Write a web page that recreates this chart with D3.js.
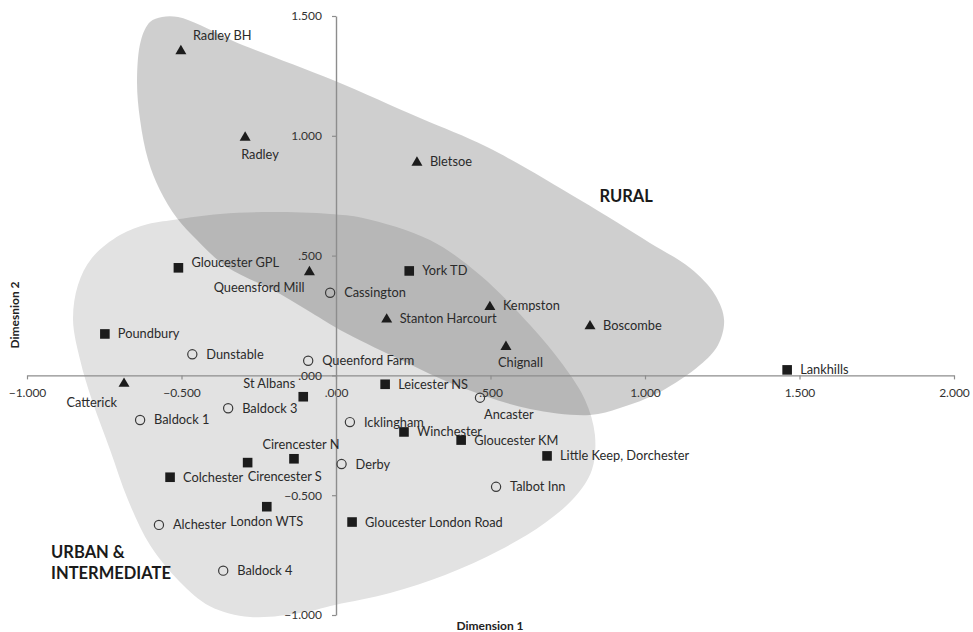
<!DOCTYPE html>
<html>
<head>
<meta charset="utf-8">
<script src="https://cdn.jsdelivr.net/npm/d3@7"></script>
<style>
  body { margin: 0; background: #fff; }
  svg text { font-family: Lato, "Open Sans", sans-serif; }
</style>
</head>
<body>
<svg id="chart" width="973" height="632"></svg>
<script>
// Site coordinates on the two MDS dimensions
const siteNames = [
  "Radley BH", "Radley", "Bletsoe", "Gloucester GPL", "Queensford Mill", "York TD",
  "Cassington", "Stanton Harcourt", "Kempston", "Boscombe", "Chignall", "Poundbury",
  "Dunstable", "Queenford Farm", "Lankhills", "Catterick", "St Albans", "Leicester NS",
  "Ancaster", "Baldock 3", "Baldock 1", "Icklingham", "Winchester", "Gloucester KM",
  "Little Keep, Dorchester", "Cirencester N", "Cirencester S", "Derby", "Colchester",
  "Talbot Inn", "London WTS", "Gloucester London Road", "Alchester", "Baldock 4"
];
const dimension1 = [
  -0.502, -0.294, 0.262, -0.510, -0.086, 0.237,
  -0.019, 0.164, 0.498, 0.822, 0.550, -0.748,
  -0.465, -0.090, 1.460, -0.686, -0.106, 0.159,
  0.466, -0.349, -0.634, 0.045, 0.220, 0.405,
  0.683, -0.136, -0.286, 0.018, -0.537,
  0.518, -0.224, 0.052, -0.573, -0.365
];
const dimension2 = [
  1.358, 0.997, 0.893, 0.449, 0.436, 0.436,
  0.345, 0.238, 0.290, 0.210, 0.124, 0.173,
  0.088, 0.061, 0.023, -0.030, -0.089, -0.037,
  -0.093, -0.137, -0.186, -0.195, -0.236, -0.270,
  -0.336, -0.348, -0.364, -0.370, -0.425,
  -0.465, -0.548, -0.612, -0.624, -0.815
];
// triangle = rural cemetery, square = urban, circle = intermediate
const siteTypes = [
  "triangle", "triangle", "triangle", "square", "triangle", "square",
  "circle", "triangle", "triangle", "triangle", "triangle", "square",
  "circle", "circle", "square", "triangle", "square", "square",
  "circle", "circle", "circle", "circle", "square", "square",
  "square", "square", "square", "circle", "square",
  "circle", "square", "square", "circle", "circle"
];

const xTickValues = [-1, -0.5, 0, 0.5, 1, 1.5, 2];
const yTickValues = [-1, -0.5, 0, 0.5, 1, 1.5];

// Hand-drawn grouping outlines, in dimension units
const ruralOutline = [
  [-0.563, 1.496], [-0.511, 1.496], [-0.440, 1.462], [-0.333, 1.396], [-0.010, 1.233],
  [0.272, 1.074], [0.489, 0.953], [0.790, 0.732], [1.016, 0.553], [1.146, 0.448],
  [1.227, 0.336], [1.256, 0.231], [1.236, 0.126], [1.178, 0.043], [1.049, -0.069],
  [0.919, -0.136], [0.822, -0.165], [0.628, -0.140], [0.411, -0.053], [0.197, 0.073],
  [0.013, 0.190], [-0.094, 0.273], [-0.204, 0.356], [-0.353, 0.452], [-0.450, 0.565],
  [-0.515, 0.657], [-0.570, 0.774], [-0.608, 0.899], [-0.634, 1.066], [-0.644, 1.232],
  [-0.631, 1.400], [-0.602, 1.475]
];
const urbanOutline = [
  [-0.528, 0.649], [-0.375, 0.674], [-0.214, 0.682], [-0.019, 0.674], [0.087, 0.657],
  [0.304, 0.565], [0.466, 0.419], [0.628, 0.210], [0.735, 0.043], [0.806, -0.103],
  [0.838, -0.249], [0.828, -0.395], [0.773, -0.508], [0.676, -0.616], [0.531, -0.729],
  [0.353, -0.833], [0.175, -0.908], [-0.003, -0.958], [-0.117, -0.992], [-0.278, -1.008],
  [-0.408, -0.963], [-0.505, -0.862], [-0.602, -0.708], [-0.673, -0.520], [-0.731, -0.311],
  [-0.790, -0.103], [-0.828, 0.064], [-0.851, 0.231], [-0.835, 0.377], [-0.790, 0.490],
  [-0.699, 0.586], [-0.608, 0.632]
];

const groupLabels = [
  { lines: ["RURAL"], x: 0.939, y: 0.749, anchor: "middle" },
  { lines: ["URBAN &", "INTERMEDIATE"], x: -0.922, y: -0.736, anchor: "start" }
];

const svg = d3.select("#chart");

const x = d3.scaleLinear().domain([-1, 2]).range([27, 954]);
const y = d3.scaleLinear().domain([-1, 1.5]).range([615, 16]);

const fmt = v => d3.format(".3f")(v).replace(/^(-?)0\./, "$1.");

// Grouping shapes
const outline = d3.line()
  .x(d => x(d[0])).y(d => y(d[1]))
  .curve(d3.curveCatmullRomClosed.alpha(0.5));

svg.append("path")
  .attr("d", outline(urbanOutline))
  .attr("fill", "#e2e2e2");
svg.append("path")
  .attr("d", outline(ruralOutline))
  .attr("fill", "#000")
  .attr("fill-opacity", 0.19);

// Axes crossing at the origin
const axisColor = "#8d8d8d";
const xAxis = svg.append("g")
  .attr("transform", `translate(0,${y(0)})`)
  .call(d3.axisBottom(x).tickValues(xTickValues).tickFormat(fmt)
    .tickSize(4).tickSizeOuter(0).tickPadding(9));
const yAxis = svg.append("g")
  .attr("transform", `translate(${x(0)},0)`)
  .call(d3.axisLeft(y).tickValues(yTickValues).tickFormat(fmt)
    .tickSize(4).tickSizeOuter(0).tickPadding(10));

[xAxis, yAxis].forEach(g => {
  g.select(".domain").attr("stroke", axisColor).attr("stroke-width", 1.4);
  g.selectAll(".tick line").attr("stroke", axisColor).attr("stroke-width", 1.2);
  g.selectAll(".tick text")
    .attr("fill", "#333")
    .style("font-size", "12px")
    .style("font-family", "Lato, sans-serif");
});

// Axis titles
svg.append("text")
  .attr("x", 490).attr("y", 630)
  .attr("text-anchor", "middle")
  .style("font-size", "12px").style("font-weight", "bold")
  .attr("fill", "#222")
  .text("Dimension 1");
svg.append("text")
  .attr("transform", "translate(19,315) rotate(-90)")
  .attr("text-anchor", "middle")
  .style("font-size", "12px").style("font-weight", "bold")
  .attr("fill", "#222")
  .text("Dimesnion 2");

// Group labels
groupLabels.forEach(g => {
  const t = svg.append("text")
    .attr("x", x(g.x)).attr("y", y(g.y))
    .attr("text-anchor", g.anchor)
    .attr("dy", "0.35em")
    .style("font-size", "16.5px").style("font-weight", "bold")
    .attr("fill", "#1a1a1a");
  g.lines.forEach((line, i) => {
    t.append("tspan")
      .attr("x", x(g.x))
      .attr("dy", i === 0 ? "0.35em" : "1.3em")
      .text(line);
  });
});

// Sites
const sites = siteNames.map((name, i) => ({
  name, d1: dimension1[i], d2: dimension2[i], type: siteTypes[i]
}));

const markerFill = "#1c1c1c";
const triangle = "M0,-5.2L5.5,4.2L-5.5,4.2Z";

const marks = svg.append("g").selectAll("g")
  .data(sites).join("g")
  .attr("transform", d => `translate(${x(d.d1)},${y(d.d2)})`);

marks.filter(d => d.type === "square").append("rect")
  .attr("x", -4.8).attr("y", -4.8).attr("width", 9.6).attr("height", 9.6)
  .attr("fill", markerFill);
marks.filter(d => d.type === "triangle").append("path")
  .attr("d", triangle)
  .attr("fill", markerFill);
marks.filter(d => d.type === "circle").append("circle")
  .attr("r", 4.6)
  .attr("fill", "none")
  .attr("stroke", "#3a3a3a")
  .attr("stroke-width", 1.2);

// Label placement around each marker
const labelOffsets = {
  "Radley BH": { anchor: "start", dx: 12, dy: -15 },
  "Radley": { anchor: "start", dx: -4, dy: 18.5 },
  "Queensford Mill": { anchor: "end", dx: -5, dy: 17 },
  "Chignall": { anchor: "start", dx: -8, dy: 17 },
  "Catterick": { anchor: "end", dx: -7, dy: 19.5 },
  "St Albans": { anchor: "end", dx: -8, dy: -13 },
  "Ancaster": { anchor: "start", dx: 4, dy: 16.5 },
  "Cirencester N": { anchor: "middle", dx: 7, dy: -14 },
  "Cirencester S": { anchor: "start", dx: 0, dy: 14 },
  "London WTS": { anchor: "middle", dx: 0, dy: 14.5 },
  "Gloucester GPL": { anchor: "start", dx: 13, dy: -5 }
};

marks.append("text")
  .each(function (d) {
    const o = labelOffsets[d.name] ||
      { anchor: "start", dx: d.type === "circle" ? 14 : 13, dy: 0 };
    d3.select(this)
      .attr("x", o.dx).attr("y", o.dy)
      .attr("text-anchor", o.anchor);
  })
  .attr("dy", "0.35em")
  .style("font-size", "12.8px")
  .attr("fill", "#2a2a2a")
  .text(d => d.name);
</script>
</body>
</html>
